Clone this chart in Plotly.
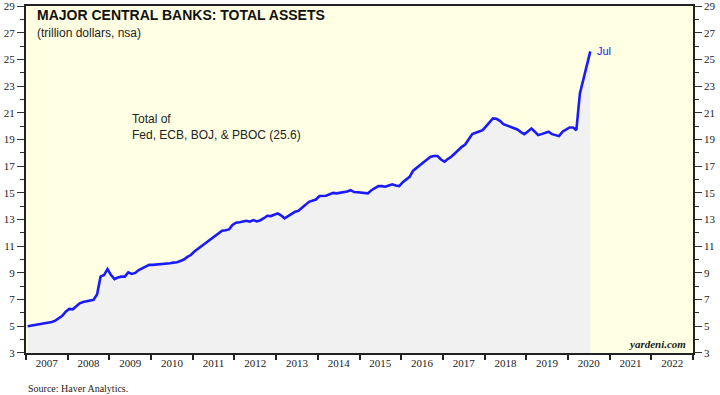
import plotly.graph_objects as go

# Monthly total assets (trillion dollars), Jan 2007 - Jul 2020
years = list(range(2007, 2021))
v2007 = [5.00, 5.05, 5.10, 5.13, 5.18, 5.22, 5.25, 5.32, 5.42, 5.60, 5.78, 6.10]
v2008 = [6.30, 6.27, 6.50, 6.72, 6.82, 6.88, 6.90, 6.98, 7.40, 8.72, 8.84, 9.29]
v2009 = [8.84, 8.54, 8.65, 8.72, 8.72, 9.04, 8.92, 9.00, 9.22, 9.35, 9.45, 9.60]
v2010 = [9.60, 9.62, 9.63, 9.65, 9.70, 9.72, 9.77, 9.80, 9.90, 10.00, 10.20, 10.34]
v2011 = [10.60, 10.80, 11.00, 11.20, 11.40, 11.60, 11.76, 11.95, 12.16, 12.20, 12.26, 12.60]
v2012 = [12.76, 12.79, 12.85, 12.91, 12.84, 12.96, 12.86, 12.95, 13.10, 13.28, 13.26, 13.35]
v2013 = [13.46, 13.30, 13.09, 13.25, 13.41, 13.58, 13.65, 13.91, 14.10, 14.33, 14.40, 14.50]
v2014 = [14.76, 14.77, 14.78, 14.90, 15.00, 14.96, 15.00, 15.08, 15.10, 15.20, 15.06, 15.05]
v2015 = [15.00, 14.98, 14.96, 15.20, 15.33, 15.51, 15.50, 15.46, 15.55, 15.64, 15.55, 15.51]
v2016 = [15.80, 16.00, 16.20, 16.66, 16.85, 17.08, 17.30, 17.50, 17.70, 17.76, 17.76, 17.50]
v2017 = [17.33, 17.55, 17.70, 17.95, 18.20, 18.45, 18.62, 19.00, 19.40, 19.50, 19.58, 19.70]
v2018 = [20.00, 20.30, 20.58, 20.55, 20.40, 20.15, 20.05, 20.00, 19.85, 19.75, 19.55, 19.40]
v2019 = [19.60, 19.83, 19.60, 19.33, 19.40, 19.50, 19.58, 19.40, 19.35, 19.25, 19.58, 19.75]
v2020 = [19.90, 19.90, 19.70, 22.45, 23.45, 24.57, 25.60]

yearly = [v2007, v2008, v2009, v2010, v2011, v2012, v2013, v2014,
          v2015, v2016, v2017, v2018, v2019, v2020]

dates, values = [], []
for yr, vals in zip(years, yearly):
    for m, v in enumerate(vals, start=1):
        dates.append(f"{yr}-{m:02d}-15")
        values.append(v)

y_ticks = list(range(3, 30, 2))

BLUE = "#1a1aff"
BG = "#ffffe3"
FILL = "#f1f1f1"

fig = go.Figure()
fig.add_trace(go.Scatter(
    x=dates, y=values, mode="lines",
    line=dict(color=BLUE, width=2.6),
    fill="tozeroy", fillcolor=FILL,
    hoverinfo="skip", showlegend=False,
))
# invisible trace to drive the right axis
fig.add_trace(go.Scatter(
    x=dates, y=values, mode="lines", yaxis="y2",
    line=dict(width=0, color="rgba(0,0,0,0)"),
    hoverinfo="skip", showlegend=False,
))

axis_font = dict(family="Liberation Serif", size=11, color="#222")
yaxis_common = dict(
    range=[2.999, 29.001], tickmode="array", tickvals=y_ticks,
    ticks="outside", ticklen=7, tickwidth=1, tickcolor="#333",
    tickfont=axis_font, showgrid=False, zeroline=False, automargin=False,
    ticklabeloverflow="allow",
    minor=dict(tickmode="linear", tick0=3, dtick=1, ticks="outside",
               ticklen=4, tickcolor="#333", showgrid=False),
)

fig.update_layout(
    width=720, height=395,
    margin=dict(l=26, r=27, t=6, b=42, autoexpand=False),
    paper_bgcolor="white", plot_bgcolor=BG,
    xaxis=dict(
        type="date", range=["2007-01-01", "2023-01-01"],
        dtick="M12", tick0="2007-01-01", tickformat="%Y",
        ticklabelmode="period", ticks="outside", ticklen=5,
        ticklabelstandoff=-6,
        tickwidth=2, tickcolor="#222", tickfont=axis_font,
        showgrid=False, zeroline=False, automargin=False,
        showline=True, linecolor="#222", linewidth=2, mirror=True,
    ),
    yaxis=dict(**yaxis_common, side="left", showline=True,
               linecolor="#222", linewidth=2, mirror=True),
    yaxis2=dict(**yaxis_common, side="right", overlaying="y",
                showline=True, linecolor="#222", linewidth=1.5),
)

ann = [
    dict(text="<b>MAJOR CENTRAL BANKS: TOTAL ASSETS</b>", x=0.0135, y=0.974,
         font=dict(family="Liberation Sans", size=14, color="#111")),
    dict(text="(trillion dollars, nsa)", x=0.0135, y=0.922,
         font=dict(family="Liberation Sans", size=12, color="#222")),
    dict(text="Total of<br>Fed, ECB, BOJ, & PBOC (25.6)", x=0.156, y=0.651,
         font=dict(family="Liberation Sans", size=12, color="#222"), align="left"),
    dict(text="<b><i>yardeni.com</i></b>", x=0.9925, y=0.026, xanchor="right",
         font=dict(family="Liberation Serif", size=11, color="#222")),
    dict(text="Source: Haver Analytics.", x=0.0, y=-0.101,
         font=dict(family="Liberation Serif", size=10, color="#222")),
]
for a in ann:
    a.setdefault("xanchor", "left")
    fig.add_annotation(xref="paper", yref="paper", yanchor="middle",
                       showarrow=False, **a)

fig.add_annotation(x=dates[-1], y=values[-1], xref="x", yref="y",
                   text="Jul", showarrow=False, xanchor="left", yanchor="middle",
                   xshift=5, font=dict(family="Liberation Sans", size=11, color=BLUE))

fig.write_html("out.html", config={"displayModeBar": False},
               post_script="document.body.style.margin='0';document.body.style.padding='0';")
